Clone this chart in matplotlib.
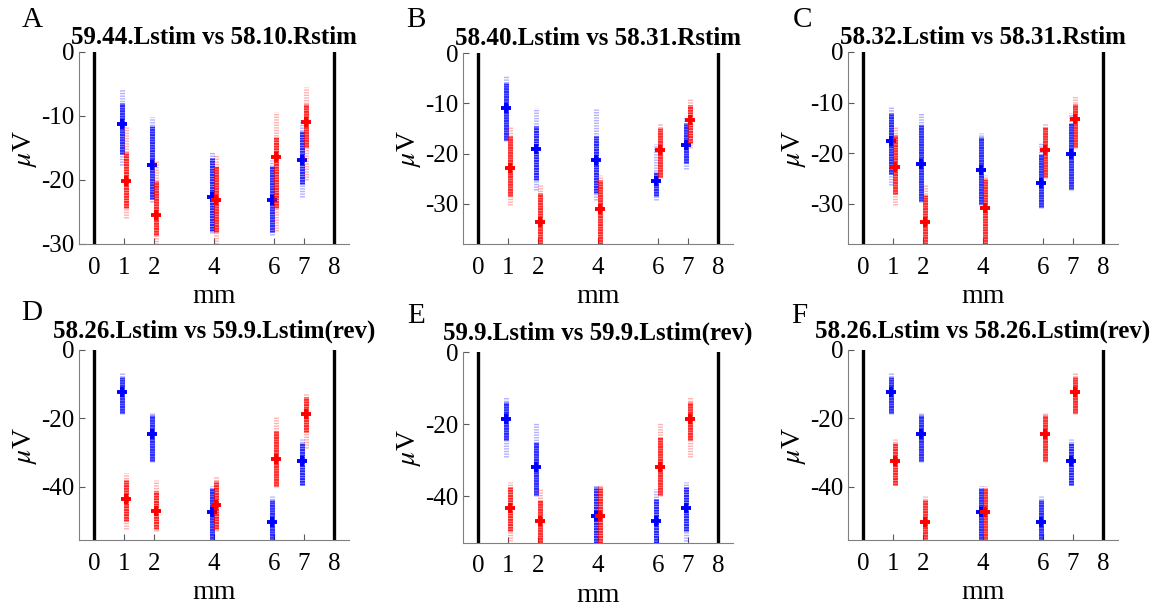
import numpy as np
import matplotlib
matplotlib.use("Agg")
import matplotlib.pyplot as plt

plt.rcParams['font.family'] = ['Liberation Serif', 'DejaVu Serif']
plt.rcParams['mathtext.fontset'] = 'stix'
plt.rcParams['axes.unicode_minus'] = False
plt.rcParams['lines.scale_dashes'] = False

# electrode positions (mm)
positions = [1, 2, 4, 6, 7]
xticks = [0, 1, 2, 4, 6, 7, 8]

# each row: [top, dense top, mean, dense bottom, bottom] in uV
A_blue = [[-5.8, -8.0, -11.3, -16.0, -17.6], [-10.1, -11.5, -17.7, -23.0, -23.5],
          [-15.7, -16.5, -22.7, -28.0, -28.3], [-16.8, -17.8, -23.1, -28.2, -28.6],
          [-10.7, -12.3, -16.9, -20.7, -22.6]]
A_red = [[-11.6, -15.7, -20.2, -24.4, -26.0], [-17.0, -20.2, -25.4, -28.6, -30.5],
         [-16.1, -17.8, -23.2, -28.1, -30.0], [-9.4, -13.3, -16.4, -24.4, -28.0],
         [-5.4, -8.1, -11.0, -14.9, -20.0]]

B_blue = [[-4.6, -6.0, -10.9, -17.3, -17.5], [-10.9, -14.6, -19.0, -25.2, -27.2],
          [-11.1, -16.6, -21.3, -27.9, -29.2], [-18.2, -23.6, -25.5, -28.5, -29.2],
          [-12.6, -13.9, -18.4, -21.9, -23.1]]
B_red = [[-14.6, -16.6, -22.9, -28.5, -30.3], [-26.0, -27.9, -33.7, -38.0, -38.5],
         [-24.2, -25.2, -31.0, -38.0, -38.5], [-13.9, -14.9, -19.2, -24.6, -24.8],
         [-9.0, -10.3, -13.4, -17.9, -18.9]]

C_blue = [[-10.7, -12.1, -17.7, -24.1, -26.4], [-12.1, -14.5, -22.1, -29.4, -29.6],
          [-16.0, -16.8, -23.4, -30.0, -30.3], [-17.9, -20.1, -25.9, -30.7, -30.9],
          [-12.1, -14.1, -20.1, -27.1, -27.3]]
C_red = [[-14.7, -16.5, -22.8, -28.1, -30.2], [-26.1, -28.4, -33.7, -38.0, -38.5],
         [-24.4, -25.1, -30.9, -38.0, -38.5], [-14.0, -14.8, -19.3, -24.8, -25.0],
         [-8.8, -10.2, -13.3, -18.8, -19.0]]

D_blue = [[-6.8, -7.8, -12.3, -18.4, -18.6], [-18.3, -18.9, -24.5, -32.5, -32.7],
          [-39.8, -40.3, -47.3, -55.8, -56.0], [-42.7, -43.7, -50.3, -55.8, -56.0],
          [-26.0, -27.2, -32.5, -39.3, -39.5]]
D_red = [[-35.9, -37.9, -43.4, -50.0, -52.4], [-37.9, -41.3, -46.9, -52.4, -52.8],
         [-36.9, -38.3, -45.4, -52.4, -52.8], [-19.6, -23.8, -31.8, -39.8, -40.0],
         [-12.6, -13.6, -18.8, -24.0, -28.6]]

E_blue = [[-12.6, -13.8, -18.7, -24.5, -29.1], [-19.8, -24.9, -31.9, -39.8, -40.0],
          [-37.0, -37.5, -45.4, -53.0, -53.5], [-38.0, -40.7, -46.8, -53.0, -53.5],
          [-36.1, -37.5, -43.3, -49.6, -52.4]]
E_red = [[-36.1, -37.5, -43.3, -49.6, -52.4], [-38.0, -41.2, -47.0, -53.5, -53.8],
         [-37.0, -37.5, -45.4, -53.0, -53.5], [-19.8, -23.5, -31.9, -39.8, -40.0],
         [-12.6, -13.8, -18.7, -24.5, -29.1]]

F_blue = [[-6.8, -7.8, -12.3, -18.4, -18.6], [-18.3, -18.9, -24.5, -32.5, -32.7],
          [-39.8, -40.3, -47.3, -55.8, -56.0], [-42.7, -43.7, -50.3, -55.8, -56.0],
          [-26.0, -27.2, -32.5, -39.3, -39.5]]
F_red = [[-26.0, -27.2, -32.5, -39.3, -39.5], [-42.7, -43.7, -50.3, -55.3, -56.0],
         [-39.8, -40.3, -47.3, -55.8, -56.0], [-18.3, -18.9, -24.5, -32.5, -32.7],
         [-6.8, -7.8, -12.3, -18.4, -18.6]]

letters = ['A', 'B', 'C', 'D', 'E', 'F']
titles = ['59.44.Lstim vs 58.10.Rstim', '58.40.Lstim vs 58.31.Rstim',
          '58.32.Lstim vs 58.31.Rstim', '58.26.Lstim vs 59.9.Lstim(rev)',
          '59.9.Lstim vs 59.9.Lstim(rev)', '58.26.Lstim vs 58.26.Lstim(rev)']
ylims = [-30, -38, -38, -55.5, -53, -55.5]
yticks = [[0, -10, -20, -30], [0, -10, -20, -30], [0, -10, -20, -30],
          [0, -20, -40], [0, -20, -40], [0, -20, -40]]
blue_sets = [A_blue, B_blue, C_blue, D_blue, E_blue, F_blue]
red_sets = [A_red, B_red, C_red, D_red, E_red, F_red]

W, H = 1166, 611
# axes boxes in pixels: left, top, right, bottom
boxes = [(79, 52, 349, 244), (463, 53, 733, 244), (848, 52, 1118, 244),
         (79, 350, 349, 540), (463, 352, 733, 543), (848, 350, 1118, 540)]
letter_pos = [(32, 20), (416, 20), (802, 20), (32, 313), (416, 316), (799, 316)]


def draw_cluster(ax, x, vals, color):
    top, hi, mean, lo, bottom = vals
    # sparse tails of single trials
    ax.plot([x, x], [bottom, top], color=color, lw=3.6, alpha=0.3,
            dashes=(1.0, 0.9), solid_capstyle='butt')
    # dense body of trials
    ax.plot([x, x], [lo, hi], color=color, lw=3.6, alpha=0.8,
            dashes=(1.6, 0.3))
    ax.plot(x, mean, marker='+', ms=7, mew=2.8, color=color)


fig = plt.figure(figsize=(W / 100, H / 100), dpi=100)

for i in range(6):
    l, t, r, b = boxes[i]
    ax = fig.add_axes([l / W, 1 - b / H, (r - l) / W, (b - t) / H])
    ax.axvline(0, color='black', lw=2.4)
    ax.axvline(8, color='black', lw=2.4)
    for p, bv, rv in zip(positions, blue_sets[i], red_sets[i]):
        draw_cluster(ax, p - 0.07, bv, 'blue')
        draw_cluster(ax, p + 0.08, rv, 'red')

    ax.set_xlim(-0.5, 8.5)
    ax.set_ylim(ylims[i], 0)
    ax.set_xticks(xticks)
    ax.set_yticks(yticks[i])
    ax.tick_params(direction='in', length=4, width=0.8, color='0.35',
                   labelsize=18)
    ax.tick_params(axis='x', pad=9)
    ax.tick_params(axis='y', pad=3)
    for side in ['top', 'right']:
        ax.spines[side].set_visible(False)
    for side in ['left', 'bottom']:
        ax.spines[side].set_color('0.5')
        ax.spines[side].set_linewidth(0.8)
    ax.set_xlabel('mm', fontsize=20, labelpad=4)
    ax.set_ylabel(r'$\mu$V', fontsize=20, labelpad=2)
    ax.set_title(titles[i], fontsize=18, fontweight='bold',
                 pad=6 if i < 3 else 9)
    fig.text(letter_pos[i][0] / W, 1 - letter_pos[i][1] / H, letters[i],
             fontsize=21, ha='center', va='center')

fig.savefig('out.png', dpi=100)
